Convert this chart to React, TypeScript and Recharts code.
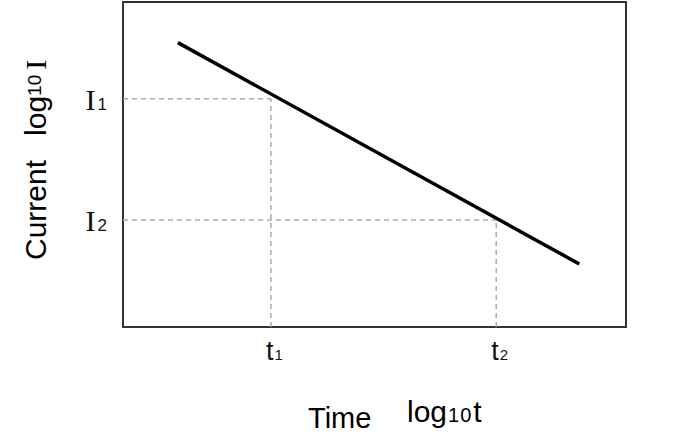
import React from "react";
import { LineChart, Line, XAxis, YAxis, ReferenceLine, ReferenceArea } from "recharts";

const lineX = [1.09, 9.07];
const lineY = [8.75, 1.94];
const tValues = [2.94, 7.42];
const tSubs = ["1", "2"];
const iValues = [7.02, 3.29];
const iSubs = ["1", "2"];

const lineData = lineX.map((x, i) => ({ x, y: lineY[i] }));

const SANS = "'Liberation Sans', Arial, sans-serif";
const SERIF = "'Liberation Serif', 'Times New Roman', serif";

const XTick = (props: any) => {
  const { x, y, payload } = props;
  const idx = tValues.indexOf(payload.value);
  return (
    <text x={x - 5} y={y + 33} textAnchor="start" fill="#111" fontFamily={SANS}>
      <tspan fontSize={27}>t</tspan>
      <tspan fontSize={15} dx={1}>{tSubs[idx]}</tspan>
    </text>
  );
};

const YTick = (props: any) => {
  const { x, y, payload } = props;
  const idx = iValues.indexOf(payload.value);
  return (
    <text x={x - 16} y={y + 11} textAnchor="end" fill="#111">
      <tspan fontFamily={SERIF} fontSize={30}>I</tspan>
      <tspan fontFamily={SANS} fontSize={17} dx={2}>{iSubs[idx]}</tspan>
    </text>
  );
};

const XLabel = (props: any) => {
  const vb = props.viewBox;
  const bx = vb.x;
  const by = vb.y + vb.height;
  return (
    <g fill="#000" fontFamily={SANS}>
      <text x={bx + 185} y={by + 61} fontSize={29}>Time</text>
      <text x={bx + 284} y={by + 55} fontSize={30}>
        <tspan>log</tspan>
        <tspan fontSize={20} dx={1} letterSpacing={1}>10</tspan>
        <tspan dx={1}>t</tspan>
      </text>
    </g>
  );
};

const YLabel = (props: any) => {
  const vb = props.viewBox;
  const bx = vb.x;
  const cy = 260;
  const px = bx - 17;
  return (
    <g fill="#000" fontFamily={SANS}>
      <text x={px} y={cy} fontSize={30} transform={`rotate(-90, ${px}, ${cy})`}>
        <tspan>Current</tspan>
        <tspan dx={24}>log</tspan>
        <tspan fontSize={19} dy={-5}>10</tspan>
        <tspan fontFamily={SERIF} fontSize={30} dy={5} dx={5}>I</tspan>
      </text>
    </g>
  );
};

export default function App() {
  const dash = { stroke: "#aaa", strokeWidth: 1.5, strokeDasharray: "5 4" };
  return (
    <div style={{ position: "absolute", left: 0, top: 0, background: "#fff" }}>
      <LineChart width={680} height={446} data={lineData} margin={{ top: 2, right: 54, left: 63, bottom: 79 }}>
        <XAxis
          dataKey="x"
          type="number"
          domain={[0, 10]}
          ticks={tValues}
          tick={<XTick />}
          axisLine={false}
          tickLine={false}
          tickSize={0}
          tickMargin={0}
          height={40}
          interval={0}
          label={{ content: <XLabel /> }}
        />
        <YAxis
          type="number"
          domain={[0, 10]}
          ticks={iValues}
          tick={<YTick />}
          axisLine={false}
          tickLine={false}
          tickSize={0}
          tickMargin={0}
          width={60}
          interval={0}
          label={{ content: <YLabel /> }}
        />
        <ReferenceLine segment={[{ x: 0, y: iValues[0] }, { x: tValues[0], y: iValues[0] }]} {...dash} />
        <ReferenceLine segment={[{ x: tValues[0], y: 0 }, { x: tValues[0], y: iValues[0] }]} {...dash} />
        <ReferenceLine segment={[{ x: 0, y: iValues[1] }, { x: tValues[1], y: iValues[1] }]} {...dash} />
        <ReferenceLine segment={[{ x: tValues[1], y: 0 }, { x: tValues[1], y: iValues[1] }]} {...dash} />
        <Line dataKey="y" stroke="#000" strokeWidth={3.5} dot={false} isAnimationActive={false} />
        <ReferenceArea x1={0} x2={10} y1={0} y2={10} fill="none" fillOpacity={0} stroke="#333" strokeWidth={2} />
      </LineChart>
    </div>
  );
}
